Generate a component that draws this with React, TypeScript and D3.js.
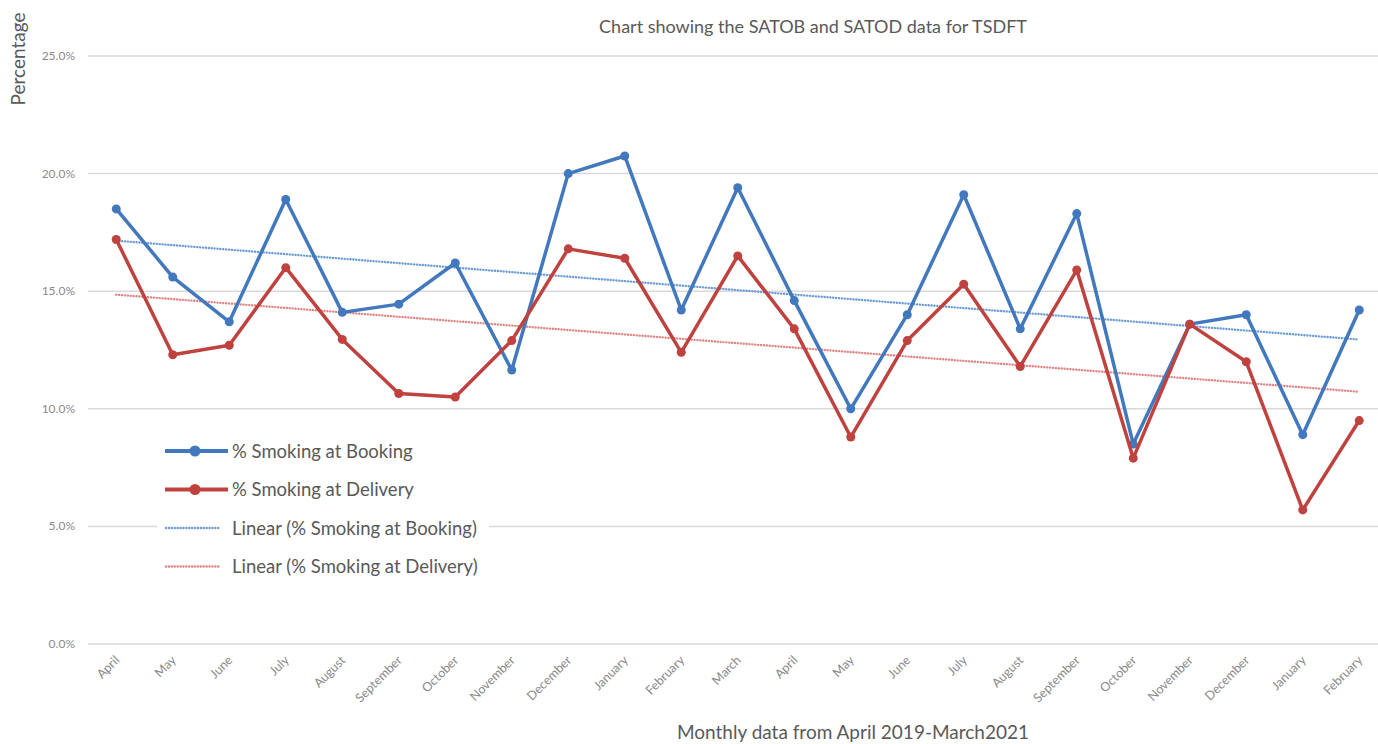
import React from "react";
import * as d3 from "d3";

const months = [
  "April", "May", "June", "July", "August", "September", "October", "November",
  "December", "January", "February", "March", "April", "May", "June", "July",
  "August", "September", "October", "November", "December", "January", "February",
];

const booking = [
  18.5, 15.6, 13.7, 18.9, 14.1, 14.45, 16.2, 11.65, 20.0, 20.75, 14.2, 19.4,
  14.6, 10.0, 14.0, 19.1, 13.4, 18.3, 8.5, 13.6, 14.0, 8.9, 14.2,
];

const delivery = [
  17.2, 12.3, 12.7, 16.0, 12.95, 10.65, 10.5, 12.9, 16.8, 16.4, 12.4, 16.5,
  13.4, 8.8, 12.9, 15.3, 11.8, 15.9, 7.9, 13.6, 12.0, 5.7, 9.5,
];

const yTicks = [0, 5, 10, 15, 20, 25];

const BLUE = "#4178be";
const RED = "#bf423f";
const BLUE_TREND = "#6b9bd6";
const RED_TREND = "#e08585";
const FONT = "Lato, 'Open Sans', sans-serif";

// least squares fit over the month index, like Excel's "Linear" trendline
const linearFit = (values: number[]) => {
  const n = values.length;
  const mx = (n - 1) / 2;
  const my = d3.mean(values) as number;
  let num = 0;
  let den = 0;
  values.forEach((v, i) => {
    num += (i - mx) * (v - my);
    den += (i - mx) * (i - mx);
  });
  const slope = num / den;
  return values.map((_, i) => my + slope * (i - mx));
};

const Chart = () => {
  const width = 1378;
  const height = 744;
  const left = 88;
  const step = 56.5;

  const xScale = d3
    .scaleBand<number>()
    .domain(months.map((_, i) => i))
    .range([left, left + step * months.length]);
  const xMid = (i: number) => (xScale(i) as number) + xScale.bandwidth() / 2;

  const yScale = d3.scaleLinear().domain([0, 25]).range([644, 56]);

  const line = d3
    .line<number>()
    .x((_, i) => xMid(i))
    .y((d) => yScale(d));

  const series = [
    { name: "% Smoking at Booking", values: booking, color: BLUE, trend: BLUE_TREND },
    { name: "% Smoking at Delivery", values: delivery, color: RED, trend: RED_TREND },
  ];

  const legend = [
    { label: "% Smoking at Booking", color: BLUE, dotted: false },
    { label: "% Smoking at Delivery", color: RED, dotted: false },
    { label: "Linear (% Smoking at Booking)", color: BLUE_TREND, dotted: true },
    { label: "Linear (% Smoking at Delivery)", color: RED_TREND, dotted: true },
  ];

  return (
    <svg
      width={width}
      height={height}
      style={{ display: "block", position: "absolute", left: 0, top: 0 }}
      fontFamily={FONT}
    >
      <rect width={width} height={height} fill="white" />
      <text x={813} y={33} textAnchor="middle" fontSize={18} fill="#595959">
        Chart showing the SATOB and SATOD data for TSDFT
      </text>
      <text
        transform={`translate(25, 59) rotate(-90)`}
        textAnchor="middle"
        fontSize={19}
        fill="#595959"
      >
        Percentage
      </text>

      <g>
        {yTicks.map((t) => (
          <g key={t}>
            <line
              x1={left}
              x2={width}
              y1={yScale(t)}
              y2={yScale(t)}
              stroke="#d9d9d9"
              strokeWidth={1.5}
            />
            <text
              x={75}
              y={yScale(t) + 4}
              textAnchor="end"
              fontSize={12}
              fill="#8a8a8a"
            >
              {t.toFixed(1)}%
            </text>
          </g>
        ))}
      </g>

      <g>
        {months.map((m, i) => (
          <text
            key={i}
            transform={`translate(${xMid(i) + 4}, 661) rotate(-45)`}
            textAnchor="end"
            fontSize={12.5}
            fill="#8a8a8a"
          >
            {m}
          </text>
        ))}
      </g>

      <text x={853} y={739} textAnchor="middle" fontSize={19} fill="#595959">
        Monthly data from April 2019-March2021
      </text>

      <g>
        {series.map((s) => (
          <path
            key={s.name + "trend"}
            d={line(linearFit(s.values)) as string}
            fill="none"
            stroke={s.trend}
            strokeWidth={2.4}
            strokeDasharray="0.1 2.8"
            strokeLinecap="round"
          />
        ))}
      </g>

      <g>
        {series.map((s) => (
          <g key={s.name}>
            <path
              d={line(s.values) as string}
              fill="none"
              stroke={s.color}
              strokeWidth={3.5}
              strokeLinejoin="round"
            />
            {s.values.map((v, i) => (
              <circle key={i} cx={xMid(i)} cy={yScale(v)} r={4.5} fill={s.color} />
            ))}
          </g>
        ))}
      </g>

      <g transform="translate(157, 430)">
        <rect width={332} height={156} fill="white" />
        {legend.map((l, i) => {
          const y = 21 + i * 38.5;
          return (
            <g key={l.label} transform={`translate(0, ${y})`}>
              {l.dotted ? (
                <line
                  x1={9}
                  x2={64}
                  y1={0}
                  y2={0}
                  stroke={l.color}
                  strokeWidth={2.4}
                  strokeDasharray="0.1 2.8"
                  strokeLinecap="round"
                />
              ) : (
                <g>
                  <line x1={8} x2={71} y1={0} y2={0} stroke={l.color} strokeWidth={4} />
                  <circle cx={38} cy={0} r={5.5} fill={l.color} />
                </g>
              )}
              <text x={75} y={6.5} fontSize={18.5} fill="#595959">
                {l.label}
              </text>
            </g>
          );
        })}
      </g>
    </svg>
  );
};

export default function App() {
  return <Chart />;
}
